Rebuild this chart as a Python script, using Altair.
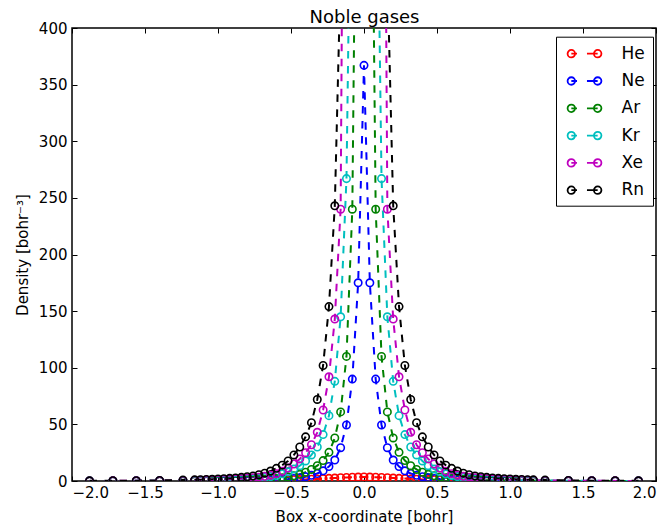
import altair as alt
import pandas as pd

elements = ["He", "Ne", "Ar", "Kr", "Xe", "Rn"]
colors = ["#ff0000", "#0000ff", "#008000", "#00bfbf", "#bf00bf", "#000000"]

# grid positions (x >= 0); the profile is mirrored for x < 0
x_half = [0.00, 0.04, 0.08, 0.12, 0.16, 0.20, 0.24, 0.28, 0.32, 0.36, 0.40, 0.44,
          0.48, 0.52, 0.56, 0.60, 0.64, 0.68, 0.72, 0.76, 0.80, 0.84, 0.88, 0.92,
          0.96, 1.00, 1.04, 1.08, 1.12, 1.16, 1.24, 1.40, 1.56, 1.72, 1.88]

he = [3.6, 3.5, 3.3, 3.1, 2.85, 2.6, 2.35, 2.1, 1.85, 1.62, 1.42, 1.24, 1.08, 0.94,
      0.82, 0.71, 0.62, 0.54, 0.47, 0.41, 0.36, 0.31, 0.27, 0.24, 0.21, 0.18, 0.16,
      0.14, 0.12, 0.105, 0.08, 0.05, 0.03, 0.02, 0.012]
ne = [367, 175, 90, 49.5, 29.4, 18.5, 12.8, 9.0, 6.6, 5.0, 3.8, 2.9, 2.25, 1.75,
      1.4, 1.1, 0.88, 0.7, 0.56, 0.45, 0.37, 0.3, 0.25, 0.2, 0.17, 0.14, 0.12, 0.1,
      0.085, 0.07, 0.05, 0.03, 0.018, 0.01, 0.006]
ar = [2600, 750, 240, 110, 61, 38, 25.3, 18, 13.5, 10.2, 7.7, 5.9, 4.6, 3.6, 2.9,
      2.3, 1.85, 1.5, 1.22, 1.0, 0.85, 0.72, 0.6, 0.5, 0.42, 0.36, 0.3, 0.26, 0.22,
      0.19, 0.14, 0.08, 0.05, 0.03, 0.02]
kr = [5200, 1900, 650, 267, 145, 88, 57.7, 41, 30, 23, 17.7, 13.5, 10.5, 8.1, 6.3,
      4.9, 3.9, 3.1, 2.5, 2.1, 1.75, 1.5, 1.28, 1.1, 0.95, 0.82, 0.72, 0.63, 0.55,
      0.48, 0.38, 0.22, 0.13, 0.08, 0.05]
xe = [8000, 4200, 2300, 1050, 240, 143, 92, 62.7, 43, 32, 25, 19.5, 15, 11.5, 8.6,
      6.5, 5.1, 4.1, 3.4, 2.85, 2.4, 2.05, 1.75, 1.5, 1.3, 1.12, 0.97, 0.85, 0.74,
      0.65, 0.5, 0.3, 0.18, 0.11, 0.07]
rn = [20000, 9000, 3000, 1200, 450, 243, 154, 102, 72, 51.5, 39, 30, 23, 17.7, 14,
      11.2, 8.8, 6.9, 5.5, 4.5, 3.8, 3.2, 2.75, 2.35, 2.0, 1.75, 1.5, 1.3, 1.15, 1.0,
      0.8, 0.5, 0.3, 0.2, 0.12]

x_ticks = [-2.0, -1.5, -1.0, -0.5, 0.0, 0.5, 1.0, 1.5, 2.0]
y_ticks = [0, 50, 100, 150, 200, 250, 300, 350, 400]

rows = []
for name, half in zip(elements, [he, ne, ar, kr, xe, rn]):
    xs = [-v for v in reversed(x_half[1:])] + x_half
    ys = list(reversed(half[1:])) + half
    for i, (xv, yv) in enumerate(zip(xs, ys)):
        rows.append({"element": name, "x": xv, "density": yv, "order": i})
df = pd.DataFrame(rows)

W, H = 584, 453
FONT = "DejaVu Sans"

xscale = alt.Scale(domain=[-2, 2], nice=False, zero=False)
yscale = alt.Scale(domain=[0, 400], nice=False)
cscale = alt.Scale(domain=elements, range=colors)
# same mapping, listed in reverse so that its (hidden) legend is not merged
sscale = alt.Scale(domain=elements[::-1], range=colors[::-1])

legend_path = ("M-1.11,0 A0.44,0.44 0 1,1 -1.99,0 A0.44,0.44 0 1,1 -1.11,0 "
               "M-1.55,0 L-0.88,0 M0.29,0 L1.55,0 "
               "M1.99,0 A0.44,0.44 0 1,1 1.11,0 A0.44,0.44 0 1,1 1.99,0")

base = alt.Chart(df)

lines = base.mark_line(strokeDash=[7.5, 7.5], strokeWidth=2, clip=True).encode(
    x=alt.X("x:Q", scale=xscale, axis=alt.Axis(
        orient="bottom", values=x_ticks, format=".1f", ticks=False, tickSize=0,
        domain=False, grid=False, labelFont=FONT, labelFontSize=15, labelColor="black",
        labelPadding=4, title="Box x-coordinate [bohr]", titleFont=FONT,
        titleFontSize=15, titleFontWeight="normal", titleColor="black",
        titleY=35, titleBaseline="middle")),
    y=alt.Y("density:Q", scale=yscale, axis=alt.Axis(
        orient="left", values=y_ticks, ticks=False, tickSize=0, domain=False,
        grid=False, labelFont=FONT, labelFontSize=15, labelColor="black",
        labelPadding=5, title="Density [bohr⁻³]", titleFont=FONT, titleFontSize=15,
        titleFontWeight="normal", titleColor="black", titleX=-50,
        titleBaseline="middle")),
    stroke=alt.Stroke("element:N", scale=sscale, legend=None),
    detail="element:N",
    order=alt.Order("order:Q"),
)

points = base.mark_point(filled=False, size=55, strokeWidth=1.6, opacity=1,
                         clip=True, shape="circle").encode(
    x=alt.X("x:Q", scale=xscale, axis=alt.Axis(
        orient="top", offset=-H, values=x_ticks, labels=False, domain=False,
        grid=False, ticks=True, tickSize=5, tickColor="black", title=None)),
    y=alt.Y("density:Q", scale=yscale, axis=alt.Axis(
        orient="right", offset=-W, values=y_ticks, labels=False, domain=False,
        grid=False, ticks=True, tickSize=5, tickColor="black", title=None)),
    color=alt.Color("element:N", scale=cscale, legend=alt.Legend(
        title=None, orient="none", legendX=484, legendY=8.7,
        symbolType=legend_path, symbolSize=289, symbolStrokeWidth=1.8,
        labelFont=FONT, labelFontSize=17, labelColor="black",
        padding=7.5, strokeColor="black", fillColor="white", cornerRadius=0,
        rowPadding=9.3, symbolOffset=11.5, labelOffset=27.5)),
)

# inward ticks on the bottom and left edges, plus the chart title
ticks_layer = base.mark_point(opacity=0, clip=True).encode(
    x=alt.X("x:Q", scale=xscale, axis=alt.Axis(
        orient="bottom", offset=-H, values=x_ticks, labels=False, domain=False,
        grid=False, ticks=True, tickSize=5, tickColor="black",
        title="Noble gases", titleFont=FONT, titleFontSize=18,
        titleFontWeight="normal", titleColor="black", titleY=-6,
        titleBaseline="alphabetic", titleAnchor="middle")),
    y=alt.Y("density:Q", scale=yscale, axis=alt.Axis(
        orient="left", offset=-W, values=y_ticks, labels=False, domain=False,
        grid=False, ticks=True, tickSize=5, tickColor="black", title=None)),
)

chart = alt.layer(lines, points, ticks_layer).resolve_axis(
    x="independent", y="independent"
).properties(
    width=W, height=H,
    autosize=alt.AutoSizeParams(type="none"),
    padding={"left": 64, "top": 20, "right": 5, "bottom": 45},
).configure_view(stroke="black", strokeWidth=1.5)

chart.save("out.html", embed_options={"renderer": "svg", "actions": False})
